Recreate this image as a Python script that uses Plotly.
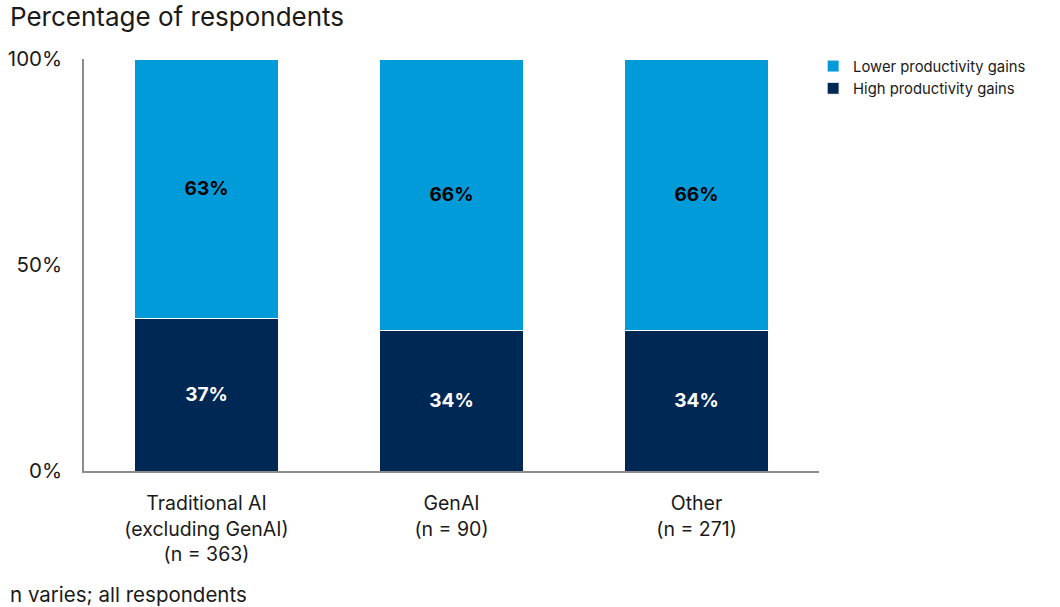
import plotly.graph_objects as go

categories = ["Traditional AI<br>(excluding GenAI)<br>(n = 363)", "GenAI<br>(n = 90)", "Other<br>(n = 271)"]
high_gains = [37, 34, 34]
lower_gains = [63, 66, 66]
tick_vals = [0, 50, 100]
tick_text = ["0%", "50%", "100%"]

FONT = "Inter, Open Sans, sans-serif"
fig = go.Figure()
fig.add_trace(go.Bar(
    x=categories, y=high_gains, name="High productivity gains",
    marker=dict(color="#002855", line=dict(color="white", width=1)),
    text=[f"<b>{v}%</b>" for v in high_gains], textposition="inside",
    insidetextanchor="middle", textfont=dict(color="white", size=19, family=FONT),
))
fig.add_trace(go.Bar(
    x=categories, y=lower_gains, name="Lower productivity gains",
    marker=dict(color="#009BD8", line=dict(color="white", width=1)),
    text=[f"<b>{v}%</b>" for v in lower_gains], textposition="inside",
    insidetextanchor="middle", textfont=dict(color="black", size=19, family=FONT),
))

fig.update_layout(
    barmode="stack", bargap=0.416,
    width=1060, height=607,
    margin=dict(l=84, r=241, t=59, b=136),
    paper_bgcolor="white", plot_bgcolor="white",
    font=dict(family=FONT, color="#1a1a1a", size=20),
    showlegend=True,
    legend=dict(x=0.992, y=1.022, xanchor="left", yanchor="top", traceorder="reversed",
                font=dict(size=14.8, color="#1a1a1a"), itemwidth=30, tracegroupgap=2,
                bgcolor="rgba(0,0,0,0)"),
    xaxis=dict(showline=True, linecolor="#8c8c8c", linewidth=1.5, ticks="outside",
               ticklen=14, tickcolor="rgba(0,0,0,0)", automargin=False,
               tickfont=dict(size=19.5), showgrid=False),
    yaxis=dict(range=[0, 100], tickvals=tick_vals, ticktext=tick_text, automargin=False,
               showline=True, linecolor="#8c8c8c", linewidth=1.5, ticks="outside",
               ticklen=16, tickcolor="rgba(0,0,0,0)", showgrid=False, zeroline=False,
               tickfont=dict(size=20.5)),
    annotations=[
        dict(text="Percentage of respondents", xref="paper", yref="paper", x=-0.104, y=1.102,
             xanchor="left", yanchor="middle", showarrow=False, font=dict(size=26, color="#1a1a1a")),
        dict(text="n varies; all respondents", xref="paper", yref="paper", x=-0.104, y=-0.30,
             xanchor="left", yanchor="middle", showarrow=False, font=dict(size=20.5, color="#1a1a1a")),
    ],
)

fig.write_html("out.html", config={"displayModeBar": False},
               post_script="document.body.style.margin='0';")
